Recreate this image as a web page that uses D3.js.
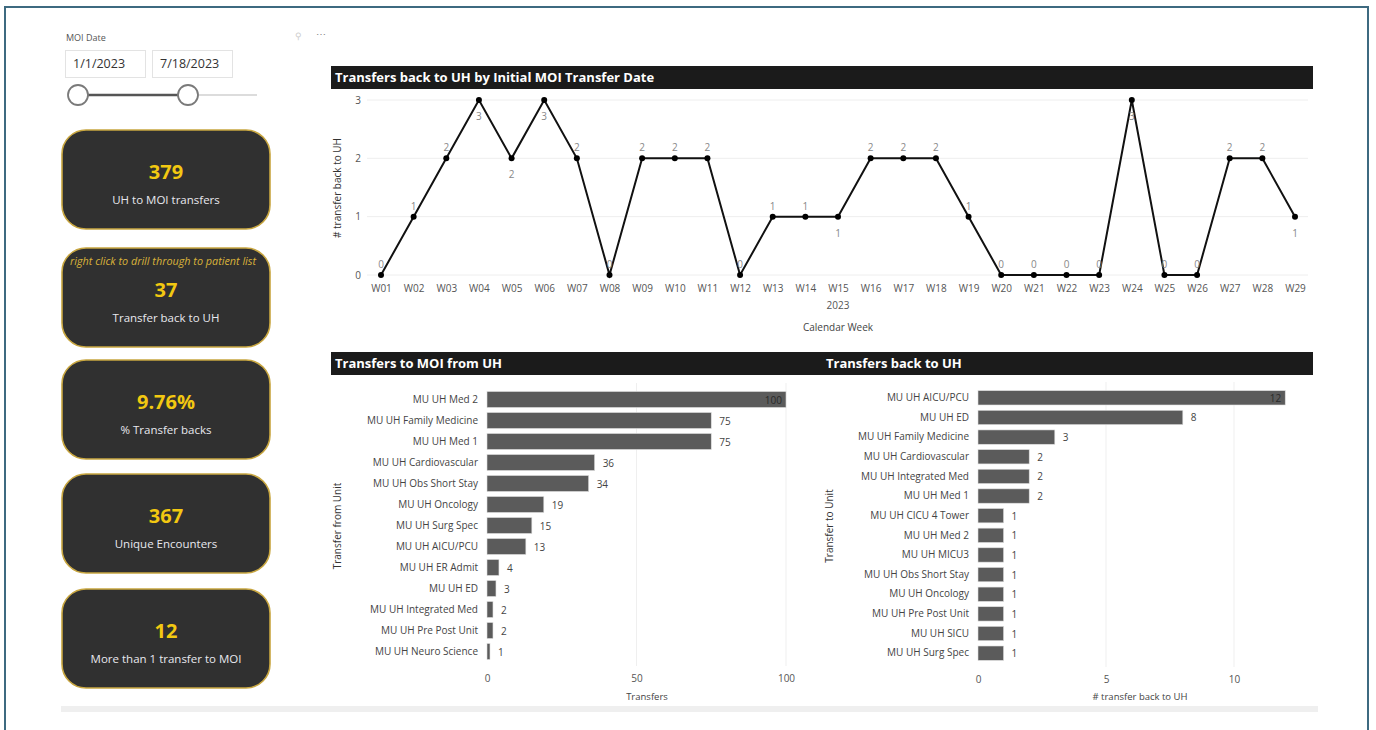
<!DOCTYPE html>
<html><head><meta charset="utf-8">
<script src="https://cdn.jsdelivr.net/npm/d3@7"></script>
<style>
body{margin:0;background:#fff;}
svg{display:block;font-family:"Open Sans","Noto Sans",sans-serif;}
</style></head>
<body><svg id="c" width="1376" height="730"></svg>
<script>
// ---- data ----
const weeks = ["W01","W02","W03","W04","W05","W06","W07","W08","W09","W10","W11","W12","W13","W14","W15","W16","W17","W18","W19","W20","W21","W22","W23","W24","W25","W26","W27","W28","W29"];
const weeklyBacks = [0,1,2,3,2,3,2,0,2,2,2,0,1,1,1,2,2,2,1,0,0,0,0,3,0,0,2,2,1];
const labelsBelow = ["W04","W05","W06","W15","W24","W29"];
const lineYTicks = [0,1,2,3];

const fromUnits = ["MU UH Med 2","MU UH Family Medicine","MU UH Med 1","MU UH Cardiovascular","MU UH Obs Short Stay","MU UH Oncology","MU UH Surg Spec","MU UH AICU/PCU","MU UH ER Admit","MU UH ED","MU UH Integrated Med","MU UH Pre Post Unit","MU UH Neuro Science"];
const fromTransfers = [100,75,75,36,34,19,15,13,4,3,2,2,1];
const fromTicks = [0,50,100];

const toUnits = ["MU UH AICU/PCU","MU UH ED","MU UH Family Medicine","MU UH Cardiovascular","MU UH Integrated Med","MU UH Med 1","MU UH CICU 4 Tower","MU UH Med 2","MU UH MICU3","MU UH Obs Short Stay","MU UH Oncology","MU UH Pre Post Unit","MU UH SICU","MU UH Surg Spec"];
const toBacks = [12,8,3,2,2,2,1,1,1,1,1,1,1,1];
const toTicks = [0,5,10];

const kpiValues = ["379","37","9.76%","367","12"];
const kpiLabels = ["UH to MOI transfers","Transfer back to UH","% Transfer backs","Unique Encounters","More than 1 transfer to MOI"];
const dateRange = ["1/1/2023","7/18/2023"];

// ---- drawing ----
const svg = d3.select("#c");
const GOLD = "#f2c811";

// outer frame
svg.append("rect").attr("x",5).attr("y",7).attr("width",1363).attr("height",730).attr("fill","none").attr("stroke","#3e6a80").attr("stroke-width",2);

// bottom gray band
svg.append("rect").attr("x",61).attr("y",706).attr("width",1257).attr("height",6).attr("fill","#efefef");

// slicer
svg.append("text").attr("x",66).attr("y",41).attr("font-size",9).attr("fill","#555").text("MOI Date");
const boxX = [65,152];
dateRange.forEach((d,i)=>{
  svg.append("rect").attr("x",boxX[i]+0.5).attr("y",50.5).attr("width",80).attr("height",27).attr("fill","#fff").attr("stroke","#e3e3e3");
  svg.append("text").attr("x",boxX[i]+8).attr("y",68).attr("font-size",12.5).attr("fill","#333").text(d);
});
svg.append("line").attr("x1",188).attr("x2",257).attr("y1",95).attr("y2",95).attr("stroke","#dcdcdc").attr("stroke-width",2);
svg.append("line").attr("x1",78).attr("x2",188).attr("y1",95).attr("y2",95).attr("stroke","#555").attr("stroke-width",2.5);
[78,188].forEach(cx=>svg.append("circle").attr("cx",cx).attr("cy",95).attr("r",10).attr("fill","#fff").attr("stroke","#7a7a7a").attr("stroke-width",1.8));
// pin/more icons
svg.append("text").attr("x",295).attr("y",39).attr("font-size",9).attr("fill","#ccc").text("⚲");
svg.append("text").attr("x",316).attr("y",38).attr("font-size",10).attr("fill","#888").text("⋯");

// KPI cards
const cardTops = [130,248,360,474,589];
kpiValues.forEach((v,i)=>{
  const y0 = cardTops[i];
  svg.append("rect").attr("x",62).attr("y",y0).attr("width",208).attr("height",99).attr("rx",24).attr("ry",24)
    .attr("fill","#303030").attr("stroke","#c8a640").attr("stroke-width",1.6);
  svg.append("text").attr("x",166).attr("y",y0+49).attr("text-anchor","middle").attr("font-size",20).attr("font-weight",700).attr("fill",GOLD).text(v);
  svg.append("text").attr("x",166).attr("y",y0+74).attr("text-anchor","middle").attr("font-size",11.5).attr("fill","#e8e8ee").text(kpiLabels[i]);
});
svg.append("text").attr("x",163).attr("y",265).attr("text-anchor","middle").attr("font-size",10.8).attr("font-style","italic").attr("fill","#d9b23a").text("right click to drill through to patient list");

function titleBar(x,w,y,t,tx){
  svg.append("rect").attr("x",x).attr("y",y).attr("width",w).attr("height",23).attr("fill","#1b1b1b");
  svg.append("text").attr("x",tx).attr("y",y+16).attr("font-size",13).attr("font-weight",700).attr("fill","#fff").text(t);
}

// ---- line chart ----
titleBar(331,982,66,"Transfers back to UH by Initial MOI Transfer Date",335);
const xL = d3.scalePoint().domain(weeks).range([381,1295]);
const yL = d3.scaleLinear().domain([0,3]).range([275,100]);
const gL = svg.append("g");
gL.selectAll("line.grid").data(lineYTicks).join("line").attr("x1",367).attr("x2",1308)
  .attr("y1",d=>yL(d)).attr("y2",d=>yL(d)).attr("stroke","#eeeeee").attr("stroke-width",1);
const yAxL = gL.append("g").attr("transform","translate(367,0)").call(d3.axisLeft(yL).tickValues(lineYTicks).tickFormat(d3.format("d")).tickSize(0).tickPadding(6));
yAxL.select(".domain").remove();
yAxL.selectAll("text").attr("font-size",10).attr("fill","#555").attr("font-family","Open Sans");
const xAxL = gL.append("g").attr("transform","translate(0,275)").call(d3.axisBottom(xL).tickSize(0).tickPadding(10));
xAxL.select(".domain").remove();
xAxL.selectAll("text").attr("font-size",10).attr("fill","#555").attr("font-family","Open Sans");
gL.append("text").attr("x",xL("W15")).attr("y",309).attr("text-anchor","middle").attr("font-size",10).attr("fill","#555").text("2023");
gL.append("text").attr("x",xL("W15")).attr("y",331).attr("text-anchor","middle").attr("font-size",10).attr("fill","#444").text("Calendar Week");
gL.append("text").attr("transform","translate(341,188) rotate(-90)").attr("text-anchor","middle").attr("font-size",10).attr("fill","#333").text("# transfer back to UH");
const pts = weeks.map((w,i)=>({w,v:weeklyBacks[i]}));
gL.append("path").datum(pts).attr("fill","none").attr("stroke","#111").attr("stroke-width",2)
  .attr("d",d3.line().x(d=>xL(d.w)).y(d=>yL(d.v)));
gL.selectAll("circle").data(pts).join("circle").attr("cx",d=>xL(d.w)).attr("cy",d=>yL(d.v)).attr("r",3).attr("fill","#000");
gL.selectAll("text.lbl").data(pts).join("text").attr("class","lbl").attr("x",d=>xL(d.w))
  .attr("y",d=>labelsBelow.includes(d.w)? yL(d.v)+20 : yL(d.v)-7)
  .attr("text-anchor","middle").attr("font-size",10).attr("fill","#888").text(d=>d.v);

// ---- bar charts ----
function barChart(opt){
  titleBar(opt.tx,opt.tw,352,opt.title,opt.ttx);
  const x = d3.scaleLinear().domain([0,opt.max]).range([opt.x0,opt.x1]);
  const y = d3.scaleBand().domain(opt.cats).range([opt.y0,opt.y1]).paddingInner(opt.pad).paddingOuter(opt.pad/2);
  const g = svg.append("g");
  g.selectAll("line.grid").data(opt.ticks.slice(1)).join("line").attr("x1",d=>x(d)).attr("x2",d=>x(d))
    .attr("y1",opt.y0-6).attr("y2",opt.y1+4).attr("stroke","#efefef");
  const xa = g.append("g").attr("transform",`translate(0,${opt.y1})`).call(d3.axisBottom(x).tickValues(opt.ticks).tickSize(0).tickPadding(13));
  xa.select(".domain").remove();
  xa.selectAll("text").attr("font-size",10).attr("fill","#555").attr("font-family","Open Sans");
  const ya = g.append("g").attr("transform",`translate(${opt.x0},0)`).call(d3.axisLeft(y).tickSize(0).tickPadding(9));
  ya.select(".domain").remove();
  ya.selectAll("text").attr("font-size",10).attr("fill","#444").attr("font-family","Open Sans");
  const data = opt.cats.map((c,i)=>({c,v:opt.vals[i]}));
  g.selectAll("rect.bar").data(data).join("rect").attr("class","bar").attr("x",x(0)).attr("y",d=>y(d.c))
    .attr("width",d=>x(d.v)-x(0)).attr("height",y.bandwidth()).attr("fill","#5b5b5b").attr("stroke","#dedede").attr("stroke-width",0.6);
  g.selectAll("text.val").data(data).join("text").attr("class","val")
    .attr("x",d=> d.v===opt.max0 ? x(d.v)-4 : x(d.v)+8)
    .attr("text-anchor",d=> d.v===opt.max0 ? "end":"start")
    .attr("y",d=>y(d.c)+y.bandwidth()/2+4).attr("font-size",10)
    .attr("fill",d=> d.v===opt.max0 ? "#2a2a2a":"#444").text(d=>d.v);
  g.append("text").attr("x",opt.xtx).attr("y",700).attr("text-anchor","middle").attr("font-size",9.5).attr("fill","#444").text(opt.xt);
  g.append("text").attr("transform",`translate(${opt.ytx},526) rotate(-90)`).attr("text-anchor","middle").attr("font-size",10).attr("fill","#333").text(opt.yt);
}
barChart({title:"Transfers to MOI from UH",tx:331,tw:484,ttx:335,cats:fromUnits,vals:fromTransfers,max:100,max0:100,ticks:fromTicks,
  x0:487,x1:786,y0:389,y1:662,pad:0.24,xt:"Transfers",xtx:647,yt:"Transfer from Unit",ytx:341});
barChart({title:"Transfers back to UH",tx:815,tw:498,ttx:826,cats:toUnits,vals:toBacks,max:12.03,max0:12,ticks:toTicks,
  x0:978,x1:1286,y0:388,y1:663,pad:0.27,xt:"# transfer back to UH",xtx:1140,yt:"Transfer to Unit",ytx:833});
</script></body></html>
